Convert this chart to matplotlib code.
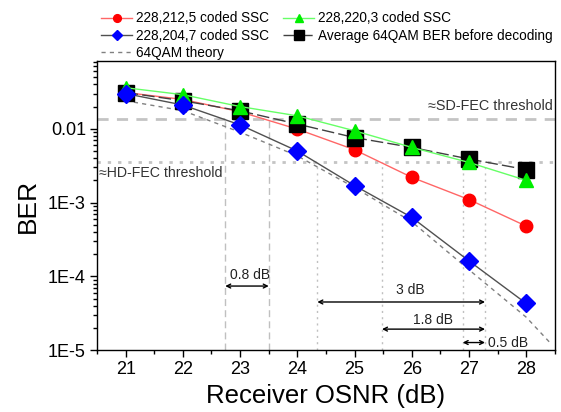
import matplotlib
matplotlib.use("Agg")
import matplotlib.pyplot as plt
from matplotlib.ticker import LogLocator, FixedLocator, NullFormatter, MultipleLocator

plt.rcParams['font.family'] = ['Liberation Sans', 'DejaVu Sans']

osnr = [21, 22, 23, 24, 25, 26, 27, 28]
ber_212 = [0.031, 0.025, 0.017, 0.0099, 0.0052, 0.0022, 0.0011, 0.00048]
ber_220 = [0.036, 0.029, 0.020, 0.015, 0.0094, 0.0056, 0.0035, 0.0020]
ber_204 = [0.030, 0.021, 0.0113, 0.0050, 0.0017, 0.00063, 0.000162, 0.000043]
ber_avg = [0.031, 0.024, 0.0175, 0.0116, 0.0076, 0.0056, 0.0039, 0.0028]
theory_osnr = [21, 22, 23, 24, 25, 26, 27, 28, 28.43]
theory_ber = [0.024, 0.0176, 0.0090, 0.0043, 0.0016, 0.00055, 0.000123, 0.000028, 0.0000123]

sd_fec = 0.0137
hd_fec = 0.00358
sd_vlines = [22.74, 23.5]
hd_vlines = [24.35, 25.48, 26.89, 27.28]
arrows = [(22.74, 23.5, 7.4e-5, "0.8 dB"), (24.35, 27.28, 4.5e-5, "3 dB"),
          (25.48, 27.28, 1.93e-5, "1.8 dB"), (26.89, 27.28, 1.27e-5, "0.5 dB")]

fig = plt.figure(figsize=(5.61, 4.12), dpi=100)
ax = fig.add_axes([0.173, 0.150, 0.816, 0.702])
ax.set_yscale('log')
ax.set_xlim(20.5, 28.5)
ax.set_ylim(1e-5, 0.083)

# threshold lines
ax.axhline(sd_fec, color='#c4c4c4', lw=2, dashes=(4, 3), zorder=1)
ax.axhline(hd_fec, color='#c4c4c4', lw=2, dashes=(1.2, 2.5), zorder=1)
for xv in sd_vlines:
    ax.plot([xv, xv], [1e-5, sd_fec], color='#c0c0c0', lw=1, dashes=(5, 3), zorder=1)
for xv in hd_vlines:
    ax.plot([xv, xv], [1e-5, hd_fec], color='#c0c0c0', lw=1, dashes=(1.5, 3), zorder=1)

l_th, = ax.plot(theory_osnr, theory_ber, color='#808080', lw=1, dashes=(3, 3), zorder=2, label='64QAM theory')
l_red, = ax.plot(osnr, ber_212, color='#ff6666', lw=1, marker='o', ms=9, mfc='#ff0000', mec='#ff0000', zorder=3, label='228,212,5 coded SSC')
l_blk, = ax.plot(osnr, ber_avg, color='#404040', lw=1, dashes=(9, 3), marker='s', ms=12, mfc='black', mec='black', zorder=4, label='Average 64QAM BER before decoding')
l_grn, = ax.plot(osnr, ber_220, color='#66ff66', lw=1, marker='^', ms=10, mfc='#00ee00', mec='#00ee00', zorder=5, label='228,220,3 coded SSC')
l_blu, = ax.plot(osnr, ber_204, color='#505050', lw=1, marker='D', ms=9, mfc='#0000ff', mec='#0000ff', zorder=6, label='228,204,7 coded SSC')

for x0, x1, yv, txt in arrows:
    ax.annotate('', xy=(x0, yv), xytext=(x1, yv),
                arrowprops=dict(arrowstyle='<->', color='black', lw=1, shrinkA=0, shrinkB=0,
                                mutation_scale=7))
ax.text(23.18, 1.06e-4, "0.8 dB", ha='center', va='center', fontsize=10, color='#222222')
ax.text(25.97, 6.5e-5, "3 dB", ha='center', va='center', fontsize=10, color='#222222')
ax.text(26.37, 2.6e-5, "1.8 dB", ha='center', va='center', fontsize=10, color='#222222')
ax.text(27.34, 1.27e-5, "0.5 dB", ha='left', va='center', fontsize=10, color='#222222')

ax.text(28.46, 0.0163, "≈SD-FEC threshold", ha='right', va='bottom', fontsize=10.4, color='#333333')
ax.text(20.53, 0.0031, "≈HD-FEC threshold", ha='left', va='top', fontsize=10.2, color='#333333')

ax.xaxis.set_major_locator(FixedLocator(osnr))
ax.xaxis.set_minor_locator(MultipleLocator(0.5))
ax.yaxis.set_major_locator(FixedLocator([1e-5, 1e-4, 1e-3, 1e-2]))
ax.yaxis.set_minor_locator(LogLocator(base=10, subs=range(2, 10)))
ax.yaxis.set_minor_formatter(NullFormatter())
ax.set_yticklabels(["1E-5", "1E-4", "1E-3", "0.01"])
ax.set_xticklabels([str(v) for v in osnr])
ax.tick_params(axis='both', which='major', direction='out', length=5, width=1, labelsize=13, pad=3)
ax.tick_params(axis='both', which='minor', direction='out', length=3, width=1)
for s in ax.spines.values():
    s.set_linewidth(1)

ax.set_xlabel("Receiver OSNR (dB)", fontsize=18.5, labelpad=4)
ax.set_ylabel("BER", fontsize=19, labelpad=6)

handles = [l_red, l_blu, l_th, l_grn, l_blk]
fig.legend(handles, [h.get_label() for h in handles], ncol=2, loc='upper left',
           bbox_to_anchor=(0.158, 1.002), frameon=False, fontsize=9.8, markerscale=0.62,
           handlelength=2.3, handletextpad=0.3, columnspacing=1.0, labelspacing=0.24,
           borderpad=0.4)

fig.savefig("out.png", dpi=100)
